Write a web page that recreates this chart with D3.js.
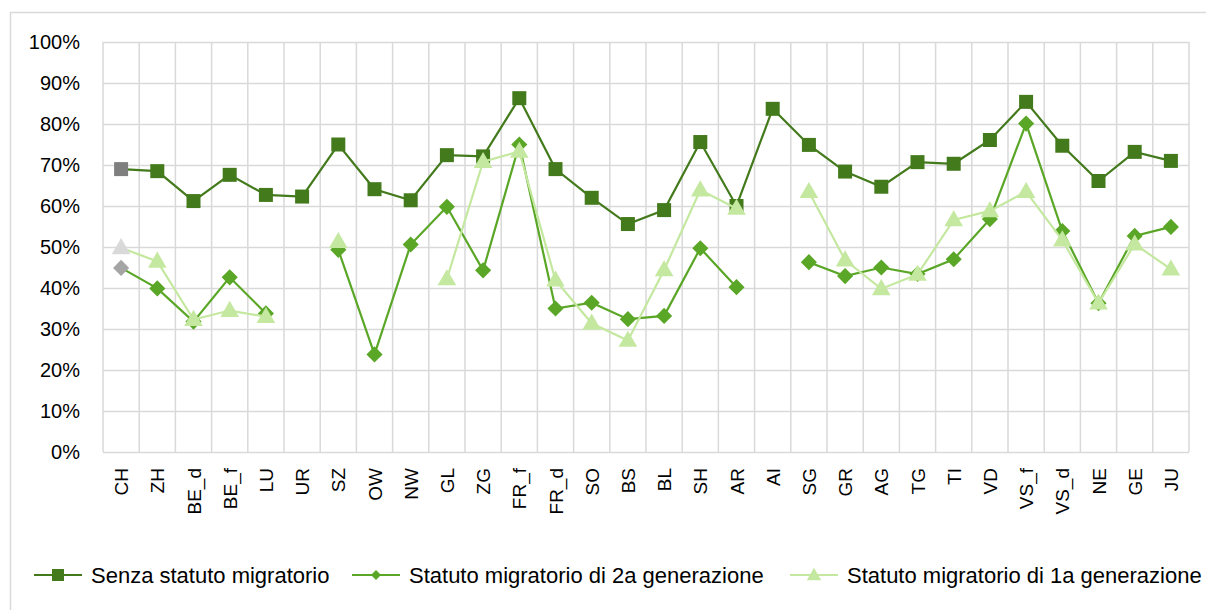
<!DOCTYPE html>
<html lang="it">
<head>
<meta charset="UTF-8">
<title>Statuto migratorio per cantone</title>
<script src="https://d3js.org/d3.v7.min.js"></script>
<style>
  body { margin: 0; background: #fff; }
  svg { display: block; font-family: "Liberation Sans", Arial, sans-serif; }
  .grid line, .grid path { stroke: #d9d9d9; stroke-width: 1.5; }
</style>
</head>
<body>
<svg id="chart" width="1206" height="610"></svg>
<script>
  // categories (cantons)
  const cantons = ["CH","ZH","BE_d","BE_f","LU","UR","SZ","OW","NW","GL","ZG","FR_f","FR_d","SO","BS",
                   "BL","SH","AR","AI","SG","GR","AG","TG","TI","VD","VS_f","VS_d","NE","GE","JU"];

  // values in %, null = no data
  const senza = [69.0,68.5,61.2,67.6,62.7,62.3,75.0,64.1,61.4,72.4,72.1,86.3,69.0,62.0,55.6,
                 59.0,75.6,60.0,83.7,74.9,68.4,64.7,70.7,70.3,76.1,85.4,74.7,66.1,73.2,71.0];
  const gen2 = [44.9,39.9,31.8,42.6,33.8,null,49.3,23.8,50.6,59.8,44.3,75.0,35.0,36.4,32.4,
                33.2,49.7,40.2,null,46.3,42.9,45.0,43.4,47.0,56.8,80.1,53.9,36.3,52.7,54.9];
  const gen1 = [49.8,46.5,32.3,34.5,33.0,null,51.3,null,null,42.2,70.8,73.3,41.9,31.4,27.2,
                44.4,63.9,59.4,null,63.5,46.8,39.8,43.3,56.6,58.8,63.5,51.7,36.3,50.7,44.6];

  const yTicks = [0,10,20,30,40,50,60,70,80,90,100];

  const series = [
    { name: "Senza statuto migratorio", values: senza, color: "#437a1c", chColor: "#7f7f7f", shape: "square" },
    { name: "Statuto migratorio di 2a generazione", values: gen2, color: "#5aa626", chColor: "#a5a5a5", shape: "diamond" },
    { name: "Statuto migratorio di 1a generazione", values: gen1, color: "#c4e89f", chColor: "#d9d9d9", shape: "triangle" }
  ];

  const svg = d3.select("#chart");
  const margin = { left: 103, right: 17, top: 42, bottom: 158 };
  const width = 1206 - margin.left - margin.right;
  const height = 610 - margin.top - margin.bottom;

  // outer chart frame
  svg.append("rect")
    .attr("x", 10.5).attr("y", 12.5)
    .attr("width", 1210).attr("height", 620)
    .attr("fill", "none").attr("stroke", "#d9d9d9").attr("stroke-width", 1.5);

  const g = svg.append("g").attr("transform", `translate(${margin.left},${margin.top})`);

  const x = d3.scaleBand().domain(cantons).range([0, width]);
  const y = d3.scaleLinear().domain([0, 100]).range([height, 0]);

  // horizontal gridlines + y labels
  const yAxis = g.append("g").attr("class", "grid")
    .call(d3.axisLeft(y).tickValues(yTicks).tickSize(-width).tickPadding(23).tickFormat(d => d + "%"));
  yAxis.select(".domain").remove();
  yAxis.selectAll("text").attr("fill", "#000").style("font-size", "20px");

  // vertical gridlines at category boundaries
  g.append("g").attr("class", "grid")
    .selectAll("line")
    .data(cantons.concat(["_end"]))
    .join("line")
    .attr("x1", (d, i) => i * x.bandwidth())
    .attr("x2", (d, i) => i * x.bandwidth())
    .attr("y1", 0).attr("y2", height);

  // x axis labels, rotated
  g.append("g")
    .selectAll("text")
    .data(cantons)
    .join("text")
    .attr("transform", d => `translate(${x(d) + x.bandwidth() / 2 + 7},${height + 16}) rotate(-90)`)
    .attr("text-anchor", "end")
    .style("font-size", "19px")
    .attr("fill", "#000")
    .text(d => d);

  const symbolOf = {
    square: d3.symbol().type(d3.symbolSquare).size(196),
    diamond: d3.symbol().type(d3.symbolSquare).size(130),
    triangle: d3.symbol().type(d3.symbolTriangle).size(150)
  };
  const rotOf = { square: 0, diamond: 45, triangle: 0 };

  const line = d3.line()
    .defined(d => d.v !== null)
    .x(d => x(d.c) + x.bandwidth() / 2)
    .y(d => y(d.v));

  series.forEach(s => {
    const pts = cantons.map((c, i) => ({ c: c, v: s.values[i], i: i }));
    g.append("path")
      .datum(pts)
      .attr("fill", "none")
      .attr("stroke", s.color)
      .attr("stroke-width", 2.2)
      .attr("d", line);

    g.append("g")
      .selectAll("path")
      .data(pts.filter(d => d.v !== null))
      .join("path")
      .attr("d", symbolOf[s.shape])
      .attr("transform", d => `translate(${x(d.c) + x.bandwidth() / 2},${y(d.v) + (s.shape === "triangle" ? 1 : 0)}) rotate(${rotOf[s.shape]})`)
      .attr("fill", d => d.i === 0 ? s.chColor : s.color);
  });

  // legend
  const legendX = [34, 352, 790];
  const legend = svg.append("g").attr("transform", "translate(0,575)");
  series.forEach((s, i) => {
    const lg = legend.append("g").attr("transform", `translate(${legendX[i]},0)`);
    lg.append("line").attr("x1", 0).attr("x2", 48).attr("y1", 0).attr("y2", 0)
      .attr("stroke", s.color).attr("stroke-width", 2.2);
    lg.append("path")
      .attr("d", d3.symbol().type(s.shape === "triangle" ? d3.symbolTriangle : d3.symbolSquare)
        .size(s.shape === "square" ? 144 : s.shape === "diamond" ? 50 : 90))
      .attr("transform", `translate(24,${s.shape === "triangle" ? 1 : 0}) rotate(${rotOf[s.shape]})`)
      .attr("fill", s.color);
    lg.append("text")
      .attr("x", 57).attr("y", 0).attr("dy", "0.35em")
      .style("font-size", "22px")
      .attr("fill", "#000")
      .text(s.name);
  });
</script>
</body>
</html>
